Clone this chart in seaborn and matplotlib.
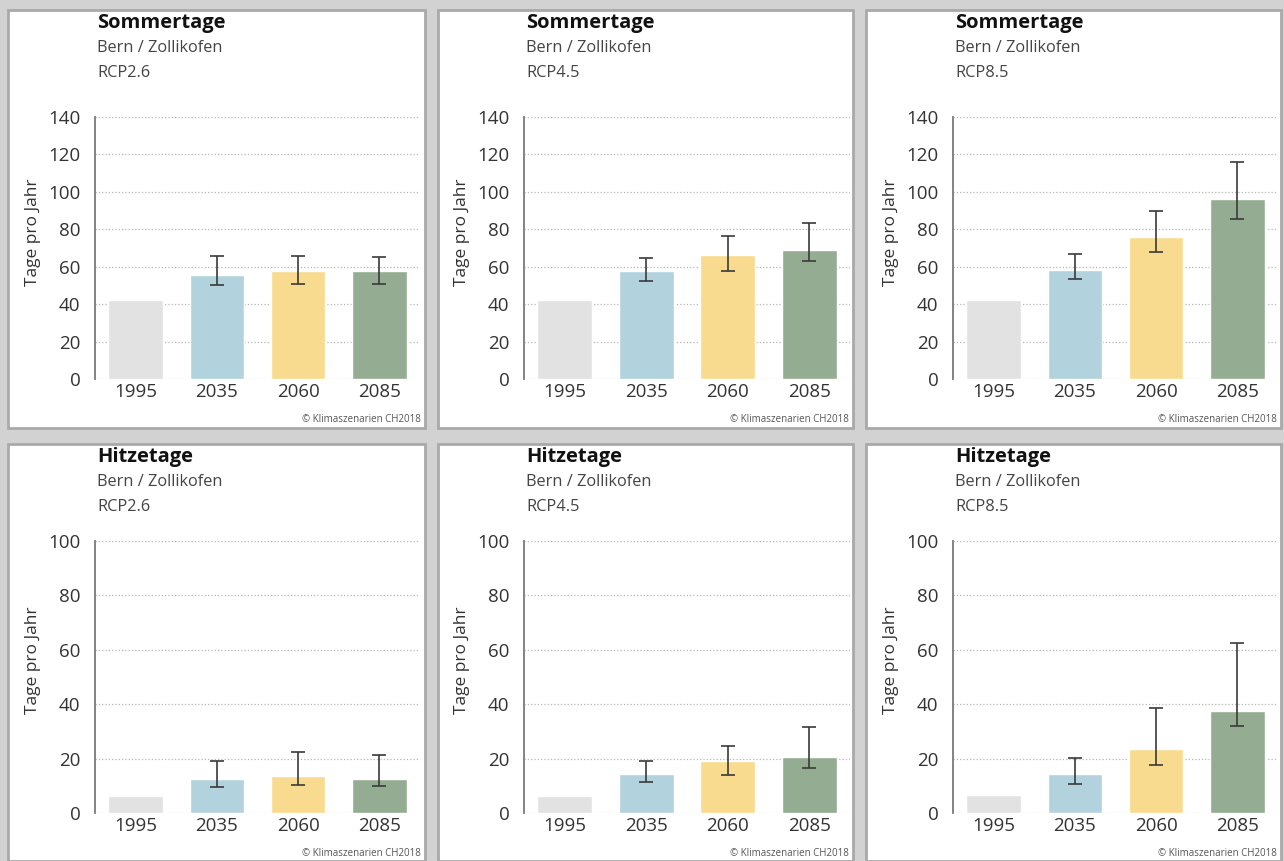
import numpy as np
import pandas as pd
import matplotlib
matplotlib.use("Agg")
import matplotlib.pyplot as plt
import seaborn as sns
from matplotlib.patches import Rectangle

sns.set_style("white")
plt.rcParams['font.family'] = ['Open Sans', 'DejaVu Sans']

nan = np.nan

# categories
years = ["1995", "2035", "2060", "2085"]
scenarios = ["RCP2.6", "RCP4.5", "RCP8.5"]
bar_colors = ["#e2e2e2", "#b2d3de", "#f9db8f", "#94ac91"]

# Sommertage (days per year), one list per scenario
sommer_mean = [[42.4, 55.8, 57.7, 57.7],
               [42.3, 57.7, 66.2, 68.9],
               [42.4, 58.5, 76.0, 96.4]]
sommer_low = [[nan, 50.0, 51.0, 51.0],
              [nan, 52.3, 57.9, 63.2],
              [nan, 53.6, 67.6, 85.5]]
sommer_high = [[nan, 65.6, 65.6, 65.1],
               [nan, 64.8, 76.4, 83.6],
               [nan, 66.9, 89.8, 116.2]]

# Hitzetage (days per year)
hitze_mean = [[6.4, 12.5, 13.7, 12.4],
              [6.4, 14.4, 19.0, 20.6],
              [6.5, 14.2, 23.6, 37.4]]
hitze_low = [[nan, 9.7, 10.3, 10.0],
             [nan, 11.4, 13.9, 16.7],
             [nan, 10.8, 17.6, 32.0]]
hitze_high = [[nan, 19.1, 22.3, 21.3],
              [nan, 19.0, 24.5, 31.6],
              [nan, 20.3, 38.7, 62.4]]

W, H = 1284, 861
fig = plt.figure(figsize=(W / 100, H / 100), dpi=100)
fig.patch.set_facecolor("#d2d2d2")

# card and axes geometry in pixels
card_x = [(8, 425), (438, 853), (866, 1281)]
card_y = [(10, 428), (444, 861)]
ax_x = [(95, 420), (524, 850), (953, 1278)]
ax_y = [(117, 379), (541, 813)]

rows = [
    ("Sommertage", sommer_mean, sommer_low, sommer_high, 140),
    ("Hitzetage", hitze_mean, hitze_low, hitze_high, 100),
]

for r, (title, means, lows, highs, ymax) in enumerate(rows):
    for c, scen in enumerate(scenarios):
        cx0, cx1 = card_x[c]
        cy0, cy1 = card_y[r]
        fig.patches.append(Rectangle((cx0 / W, 1 - cy1 / H), (cx1 - cx0) / W, (cy1 - cy0) / H,
                                     transform=fig.transFigure, facecolor="white",
                                     edgecolor="#a9a9a9", linewidth=2, zorder=-1))

        x0, x1 = ax_x[c]
        y0, y1 = ax_y[r]
        ax = fig.add_axes([x0 / W, 1 - y1 / H, (x1 - x0) / W, (y1 - y0) / H])
        ax.set_zorder(2)
        ax.set_facecolor("white")

        df = pd.DataFrame({"Jahr": years, "Tage": means[c]})
        sns.barplot(data=df, x="Jahr", y="Tage", hue="Jahr", palette=bar_colors,
                    legend=False, width=0.67, ax=ax, saturation=1)

        m = np.array(means[c])
        lo = m - np.array(lows[c])
        hi = np.array(highs[c]) - m
        ax.errorbar(np.arange(len(years)), m, yerr=[lo, hi], fmt="none",
                    ecolor="#3a3a3a", elinewidth=1.2, capsize=5, capthick=1.2, zorder=5)

        ax.set_xlim(-0.5, 3.5)
        ax.set_ylim(0, ymax)
        ax.set_yticks(np.arange(0, ymax + 1, 20))
        ax.grid(axis="y", linestyle=":", color="#b5b5b5", linewidth=0.9)
        ax.set_axisbelow(True)
        for s in ["top", "right", "bottom"]:
            ax.spines[s].set_visible(False)
        ax.spines["left"].set_color("#7a7a7a")
        ax.spines["left"].set_linewidth(1.3)
        ax.tick_params(axis="y", length=7.5, width=1.2, color="#7a7a7a",
                       labelsize=13.5, labelcolor="#333333", pad=3)
        ax.tick_params(axis="x", length=0, labelsize=13.5, labelcolor="#333333", pad=3)
        ax.set_xlabel("")
        ax.set_ylabel("Tage pro Jahr", fontsize=12.5, color="#333333")
        ax.yaxis.set_label_coords(-0.165, 0.56)

        tx = (x0 + 2) / W
        fig.text(tx, 1 - (cy0 + 12.7) / H, title, fontsize=14.5, fontweight="bold",
                 color="#111111", va="center", ha="left")
        fig.text(tx, 1 - (cy0 + 38) / H, "Bern / Zollikofen", fontsize=11.8,
                 color="#444444", va="center", ha="left")
        fig.text(tx, 1 - (cy0 + 63) / H, scen, fontsize=11.8,
                 color="#444444", va="center", ha="left")
        fig.text((cx1 - 4) / W, 1 - (cy1 - 8) / H, "© Klimaszenarien CH2018",
                 fontsize=7, color="#555555", va="center", ha="right")

fig.savefig("out.png", dpi=100, facecolor=fig.get_facecolor())
